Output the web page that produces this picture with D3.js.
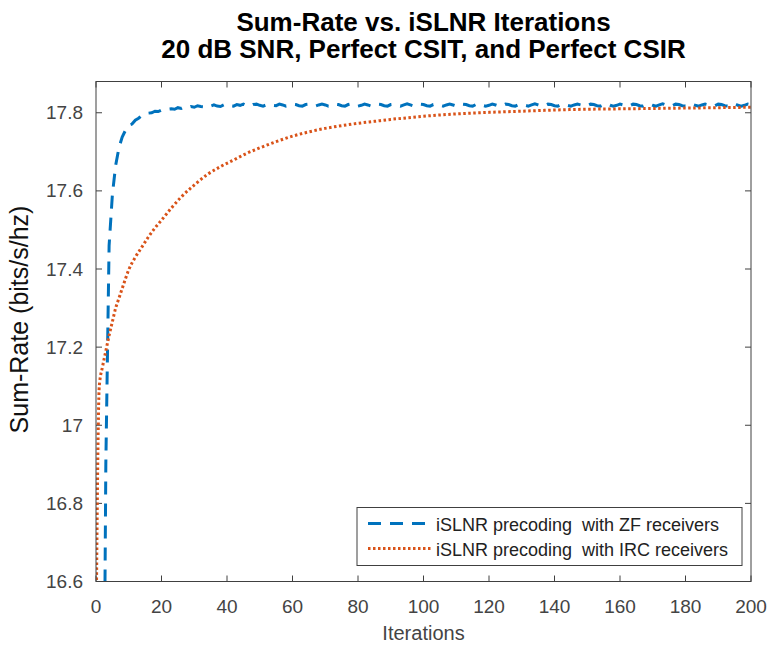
<!DOCTYPE html>
<html>
<head>
<meta charset="utf-8">
<script src="https://d3js.org/d3.v7.min.js"></script>
<style>
  body { margin: 0; background: #fff; }
  text { font-family: "Liberation Sans", Arial, Helvetica, sans-serif; }
</style>
</head>
<body>
<div id="chart"></div>
<script>
// ---- data ----
var titleLines = ["Sum-Rate vs. iSLNR Iterations", "20 dB SNR, Perfect CSIT, and Perfect CSIR"];
var seriesNames = ["iSLNR precoding  with ZF receivers", "iSLNR precoding  with IRC receivers"];
var xTicks = [0, 20, 40, 60, 80, 100, 120, 140, 160, 180, 200];
var yTicks = [16.6, 16.8, 17, 17.2, 17.4, 17.6, 17.8];

// ZF receivers: one value per iteration, 0..200
var zfRate = [
  13.5, 14.8, 15.7, 16.9, 17.46, 17.59, 17.665, 17.71, 17.738, 17.755,
  17.768, 17.771, 17.781, 17.786, 17.793, 17.794, 17.799, 17.8, 17.804, 17.803,
  17.807, 17.806, 17.809, 17.81, 17.809, 17.813, 17.811, 17.815, 17.813, 17.816,
  17.814, 17.818, 17.816, 17.815, 17.819, 17.817, 17.82, 17.817, 17.816, 17.82,
  17.822, 17.818, 17.817, 17.821, 17.819, 17.822, 17.818, 17.817, 17.821, 17.822,
  17.819, 17.817, 17.82, 17.822, 17.819, 17.818, 17.822, 17.82, 17.817, 17.819,
  17.822, 17.821, 17.818, 17.817, 17.821, 17.822, 17.819, 17.817, 17.82, 17.822,
  17.82, 17.817, 17.818, 17.822, 17.821, 17.818, 17.817, 17.821, 17.823, 17.819,
  17.817, 17.819, 17.822, 17.82, 17.817, 17.818, 17.822, 17.821, 17.818, 17.817,
  17.821, 17.822, 17.819, 17.817, 17.82, 17.823, 17.82, 17.817, 17.818, 17.822,
  17.821, 17.818, 17.817, 17.821, 17.822, 17.819, 17.817, 17.82, 17.822, 17.82,
  17.817, 17.818, 17.822, 17.821, 17.818, 17.817, 17.821, 17.823, 17.819, 17.817,
  17.819, 17.822, 17.82, 17.817, 17.818, 17.822, 17.821, 17.818, 17.817, 17.821,
  17.822, 17.819, 17.817, 17.82, 17.823, 17.82, 17.817, 17.818, 17.822, 17.821,
  17.818, 17.817, 17.821, 17.822, 17.819, 17.817, 17.82, 17.822, 17.82, 17.817,
  17.818, 17.822, 17.821, 17.818, 17.817, 17.821, 17.823, 17.819, 17.817, 17.819,
  17.822, 17.82, 17.817, 17.818, 17.822, 17.821, 17.818, 17.817, 17.821, 17.822,
  17.819, 17.817, 17.82, 17.823, 17.82, 17.817, 17.818, 17.822, 17.821, 17.818,
  17.817, 17.821, 17.822, 17.819, 17.817, 17.82, 17.822, 17.82, 17.817, 17.818,
  17.822, 17.821, 17.818, 17.817, 17.821, 17.823, 17.819, 17.817, 17.819, 17.822,
  17.82
];

// IRC receivers: smooth curve, sampled
var ircIter = [0, 1, 2, 3, 4, 5, 6, 7, 8, 9, 10, 12, 14, 16, 18, 20, 23, 26, 30, 34,
  38, 42, 46, 50, 55, 60, 65, 70, 75, 80, 85, 90, 95, 100, 110, 120, 130, 140, 150,
  160, 170, 180, 190, 200];
var ircRate = [16.45, 17.10, 17.15, 17.19, 17.23, 17.265, 17.30, 17.325, 17.35, 17.375,
  17.398, 17.43, 17.456, 17.482, 17.505, 17.525, 17.556, 17.584, 17.615, 17.642,
  17.662, 17.679, 17.696, 17.71, 17.726, 17.74, 17.751, 17.76, 17.767, 17.773,
  17.778, 17.783, 17.787, 17.791, 17.797, 17.801, 17.804, 17.807, 17.809,
  17.81, 17.811, 17.812, 17.813, 17.814];

var colors = ["#0072BD", "#D95319"];

// ---- layout ----
var width = 767, height = 645;
var margin = {left: 96, right: 16, top: 81.5, bottom: 63.5};
var w = width - margin.left - margin.right;
var h = height - margin.top - margin.bottom;

var svg = d3.select("#chart").append("svg")
  .attr("width", width)
  .attr("height", height);

var g = svg.append("g")
  .attr("transform", "translate(" + margin.left + "," + margin.top + ")");

var xs = d3.scaleLinear().domain([0, 200]).range([0, w]);
var ys = d3.scaleLinear().domain([16.6, 17.88]).range([h, 0]);

g.append("clipPath").attr("id", "clip")
  .append("rect").attr("width", w).attr("height", h);

var axisCol = "#404040";

// ticks (inward, on all four sides)
var tl = 6;
g.selectAll(".xt").data(xTicks).enter().append("path")
  .attr("d", function(d) { return "M" + xs(d) + "," + h + "v" + (-tl) + "M" + xs(d) + ",0v" + tl; })
  .attr("stroke", axisCol).attr("stroke-width", 1);
g.selectAll(".yt").data(yTicks).enter().append("path")
  .attr("d", function(d) { return "M0," + ys(d) + "h" + tl + "M" + w + "," + ys(d) + "h" + (-tl); })
  .attr("stroke", axisCol).attr("stroke-width", 1);

// tick labels
g.selectAll(".xl").data(xTicks).enter().append("text")
  .attr("x", function(d) { return xs(d); })
  .attr("y", h + 31)
  .attr("text-anchor", "middle")
  .style("font-size", "19px")
  .style("fill", "#444")
  .text(function(d) { return d; });
g.selectAll(".yl").data(yTicks).enter().append("text")
  .attr("x", -13)
  .attr("y", function(d) { return ys(d) + 6.5; })
  .attr("text-anchor", "end")
  .style("font-size", "19px")
  .style("fill", "#444")
  .text(function(d) { return d; });

// lines
var plot = g.append("g").attr("clip-path", "url(#clip)");

var zfLine = d3.line()
  .x(function(d, i) { return xs(i); })
  .y(function(d) { return ys(d); });
plot.append("path")
  .datum(zfRate)
  .attr("fill", "none")
  .attr("stroke", colors[0])
  .attr("stroke-width", 3)
  .attr("stroke-dasharray", "13,9")
  .attr("d", zfLine);

var ircLine = d3.line()
  .x(function(d, i) { return xs(ircIter[i]); })
  .y(function(d) { return ys(d); })
  .curve(d3.curveMonotoneX);
plot.append("path")
  .datum(ircRate)
  .attr("fill", "none")
  .attr("stroke", colors[1])
  .attr("stroke-width", 3)
  .attr("stroke-dasharray", "2.5,2.5")
  .attr("d", ircLine);

// box
g.append("rect")
  .attr("width", w).attr("height", h)
  .attr("fill", "none")
  .attr("stroke", axisCol)
  .attr("stroke-width", 1);

// axis labels
g.append("text")
  .attr("x", w / 2)
  .attr("y", h + 58)
  .attr("text-anchor", "middle")
  .style("font-size", "20px")
  .style("fill", "#444")
  .text("Iterations");
g.append("text")
  .attr("transform", "rotate(-90)")
  .attr("x", -238)
  .attr("y", -68)
  .attr("text-anchor", "middle")
  .style("font-size", "25px")
  .style("fill", "#111")
  .text("Sum-Rate (bits/s/hz)");

// title
svg.selectAll(".title").data(titleLines).enter().append("text")
  .attr("x", margin.left + w / 2)
  .attr("y", function(d, i) { return 31 + i * 27; })
  .attr("text-anchor", "middle")
  .style("font-size", "26px")
  .style("font-weight", "bold")
  .style("fill", "#000")
  .text(function(d) { return d; });

// legend
var lg = g.append("g").attr("transform", "translate(" + (xs(200) - 394) + "," + (h - 74) + ")");
lg.append("rect")
  .attr("width", 385).attr("height", 58)
  .attr("fill", "#fff")
  .attr("stroke", axisCol)
  .attr("stroke-width", 1);
var dash = ["13,9", "2.5,2.5"];
seriesNames.forEach(function(name, i) {
  var yy = 16 + i * 25;
  lg.append("line")
    .attr("x1", 11).attr("x2", 74)
    .attr("y1", yy).attr("y2", yy)
    .attr("stroke", colors[i])
    .attr("stroke-width", 3)
    .attr("stroke-dasharray", dash[i]);
  lg.append("text")
    .attr("x", 79)
    .attr("y", yy + 7)
    .style("font-size", "18px")
    .style("fill", "#222")
    .style("white-space", "pre")
    .text(name);
});
</script>
</body>
</html>
